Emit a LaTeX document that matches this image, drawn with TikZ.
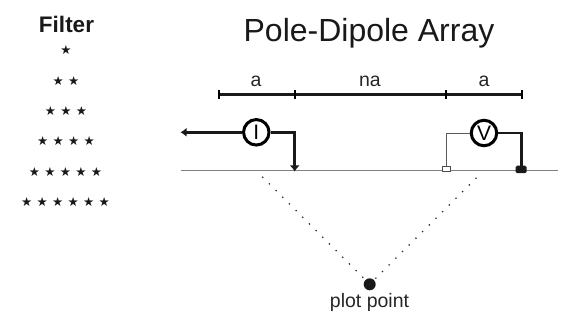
\documentclass[tikz,border=0pt]{standalone}
\usepackage{fontspec}
\setmainfont{Liberation Sans}
\newfontfamily\symfont{DejaVu Sans}
\usetikzlibrary{arrows.meta}
\newcommand{\st}{\makebox[15.5pt]{\symfont\fontsize{12.5}{13}\selectfont ★}}
\tikzset{
  x=1pt,y=-1pt,
  txt/.style={inner sep=0pt,font=\fontsize{19.5}{22}\selectfont,text=black!85},
  row/.style={inner sep=0pt,text=black!90},
  meter/.style={circle,draw=black,line width=3pt,minimum size=25.5pt,inner sep=0pt,fill=white,font=\fontsize{21}{22}\selectfont},
  thick wire/.style={line width=2.5pt,black!90},
  thin wire/.style={line width=.8pt,black!65},
  bar/.style={line width=2.5pt,black!90},
  tick/.style={line width=1.7pt,black},
  dots/.style={line width=1.8pt,black!85,line cap=round,dash pattern=on 0pt off 9.43pt},
}
\begin{document}
\begin{tikzpicture}
\useasboundingbox (0,0) rectangle (587,326);
\node[inner sep=0pt,font=\bfseries\fontsize{22.5}{26}\selectfont,text=black!90] (filter) at (66.5,24) {Filter};
\node[row] (r1) at (66,50) {\st};
\node[row] (r2) at (66,81) {\st\st};
\node[row] (r3) at (66,111) {\st\st\st};
\node[row] (r4) at (66,141.5) {\st\st\st\st};
\node[row] (r5) at (65.5,172.5) {\st\st\st\st\st};
\node[row] (r6) at (65.5,202.5) {\st\st\st\st\st\st};
\node[inner sep=0pt,font=\fontsize{32}{38}\selectfont,text=black!90] (title) at (369,33) {Pole-Dipole Array};
% scale bar
\coordinate (b1) at (219.3,94.7);
\coordinate (b2) at (294.7,94.7);
\coordinate (b3) at (446,94.7);
\coordinate (b4) at (521.7,94.7);
\draw[bar] (b1) -- (b4);
\foreach \c in {b1,b2,b3,b4} \draw[tick] ([yshift=-4.5pt]\c) -- ([yshift=5pt]\c);
\node[txt] (la) at (256,81) {a};
\node[txt] (lna) at (370,81) {na};
\node[txt] (lb) at (484,81) {a};
% ground
\coordinate (g1) at (181,170.5);
\coordinate (g2) at (558,170.5);
\draw[line width=1pt,black!50] (g1) -- (g2);
% electrodes
\coordinate (far) at (180.5,132.3);
\coordinate (c2) at (294.7,171.5);
\coordinate (p1) at (446,168);
\coordinate (p2) at (521.7,167);
\node[meter] (I) at (256.3,132.3) {I};
\node[meter] (V) at (484,133) {V};
\draw[thick wire,-{Latex[length=6pt,width=9pt]}] (I.west) -- (far);
\draw[thick wire,-{Latex[length=6pt,width=10pt]}] (I.east) -| (c2);
\draw[thin wire] (V.west) -| (p1);
\draw[thick wire] (V.east) -| (p2);
\node[draw=black!70,line width=.6pt,fill=white,minimum width=8pt,minimum height=4.5pt,inner sep=0pt] (pa) at (446,169) {};
\node[fill=black!90,rounded corners=1.5pt,minimum width=11pt,minimum height=7.5pt,inner sep=0pt] (pb) at (521,169.5) {};
% plot point
\node[circle,fill=black!90,minimum size=12pt,inner sep=0pt] (pp) at (369.7,284.3) {};
\node[inner sep=0pt,font=\fontsize{19.5}{22}\selectfont,text=black!85] (ppl) at (369.5,302) {plot point};
\coordinate (d1) at (262.7,177.3);
\coordinate (d2) at (476,178.3);
\draw[dots] (d1) -- (pp.center);
\draw[dots] (d2) -- (pp.center);
\end{tikzpicture}
\end{document}
